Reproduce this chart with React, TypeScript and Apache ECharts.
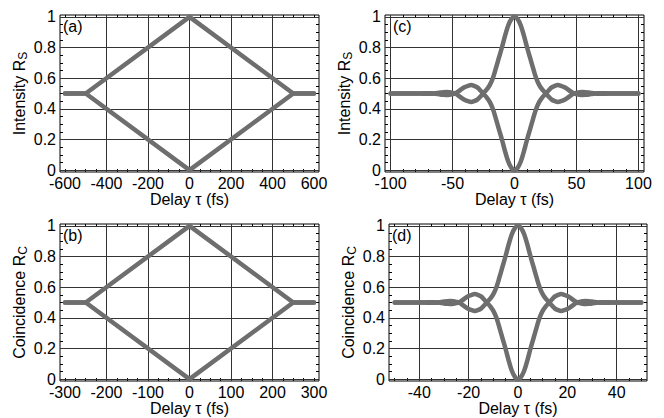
import React, { useEffect, useRef } from "react";
import * as echarts from "echarts";

// ---- data ----
const tauA = [-600, -500, 0, 500, 600];
const upperA = [0.5, 0.5, 1, 0.5, 0.5];
const lowerA = [0.5, 0.5, 0, 0.5, 0.5];

const tauB = [-300, -250, 0, 250, 300];
const upperB = [0.5, 0.5, 1, 0.5, 0.5];
const lowerB = [0.5, 0.5, 0, 0.5, 0.5];

const tauC = [-100, -90, -80, -75, -72.5, -70, -67.5, -65, -62.5, -60, -57.5, -55, -52.5, -50, -47.5, -45, -42.5, -40, -37.5, -35, -32.5, -30, -27.5, -25, -22.5, -20, -17.5, -15, -12.5, -10, -7.5, -5, -2.5, 0, 2.5, 5, 7.5, 10, 12.5, 15, 17.5, 20, 22.5, 25, 27.5, 30, 32.5, 35, 37.5, 40, 42.5, 45, 47.5, 50, 52.5, 55, 57.5, 60, 62.5, 65, 67.5, 70, 72.5, 75, 80, 90, 100];
const upperC = [0.5, 0.5, 0.5, 0.5, 0.498, 0.498, 0.498, 0.5, 0.503, 0.506, 0.508, 0.509, 0.508, 0.504, 0.498, 0.485, 0.47, 0.458, 0.45, 0.445, 0.45, 0.46, 0.48, 0.503, 0.525, 0.555, 0.6, 0.665, 0.735, 0.805, 0.88, 0.945, 0.985, 1, 0.985, 0.945, 0.88, 0.805, 0.735, 0.665, 0.6, 0.555, 0.525, 0.503, 0.48, 0.46, 0.45, 0.445, 0.45, 0.458, 0.47, 0.485, 0.498, 0.504, 0.508, 0.509, 0.508, 0.506, 0.503, 0.5, 0.498, 0.498, 0.498, 0.5, 0.5, 0.5, 0.5];
const lowerC = [0.5, 0.5, 0.5, 0.5, 0.502, 0.502, 0.502, 0.5, 0.497, 0.494, 0.492, 0.491, 0.492, 0.496, 0.502, 0.515, 0.53, 0.542, 0.55, 0.555, 0.55, 0.54, 0.52, 0.497, 0.475, 0.445, 0.4, 0.335, 0.265, 0.195, 0.12, 0.055, 0.015, 0, 0.015, 0.055, 0.12, 0.195, 0.265, 0.335, 0.4, 0.445, 0.475, 0.497, 0.52, 0.54, 0.55, 0.555, 0.55, 0.542, 0.53, 0.515, 0.502, 0.496, 0.492, 0.491, 0.492, 0.494, 0.497, 0.5, 0.502, 0.502, 0.502, 0.5, 0.5, 0.5, 0.5];

const tauD = [-50, -45, -40, -37.5, -36.25, -35, -33.75, -32.5, -31.25, -30, -28.75, -27.5, -26.25, -25, -23.75, -22.5, -21.25, -20, -18.75, -17.5, -16.25, -15, -13.75, -12.5, -11.25, -10, -8.75, -7.5, -6.25, -5, -3.75, -2.5, -1.25, 0, 1.25, 2.5, 3.75, 5, 6.25, 7.5, 8.75, 10, 11.25, 12.5, 13.75, 15, 16.25, 17.5, 18.75, 20, 21.25, 22.5, 23.75, 25, 26.25, 27.5, 28.75, 30, 31.25, 32.5, 33.75, 35, 36.25, 37.5, 40, 45, 50];
const upperD = [0.5, 0.5, 0.5, 0.5, 0.498, 0.498, 0.498, 0.5, 0.503, 0.506, 0.508, 0.509, 0.508, 0.504, 0.498, 0.485, 0.47, 0.458, 0.45, 0.445, 0.45, 0.46, 0.48, 0.503, 0.525, 0.555, 0.6, 0.665, 0.735, 0.805, 0.88, 0.945, 0.985, 1, 0.985, 0.945, 0.88, 0.805, 0.735, 0.665, 0.6, 0.555, 0.525, 0.503, 0.48, 0.46, 0.45, 0.445, 0.45, 0.458, 0.47, 0.485, 0.498, 0.504, 0.508, 0.509, 0.508, 0.506, 0.503, 0.5, 0.498, 0.498, 0.498, 0.5, 0.5, 0.5, 0.5];
const lowerD = [0.5, 0.5, 0.5, 0.5, 0.502, 0.502, 0.502, 0.5, 0.497, 0.494, 0.492, 0.491, 0.492, 0.496, 0.502, 0.515, 0.53, 0.542, 0.55, 0.555, 0.55, 0.54, 0.52, 0.497, 0.475, 0.445, 0.4, 0.335, 0.265, 0.195, 0.12, 0.055, 0.015, 0, 0.015, 0.055, 0.12, 0.195, 0.265, 0.335, 0.4, 0.445, 0.475, 0.497, 0.52, 0.54, 0.55, 0.555, 0.55, 0.542, 0.53, 0.515, 0.502, 0.496, 0.492, 0.491, 0.492, 0.494, 0.497, 0.5, 0.502, 0.502, 0.502, 0.5, 0.5, 0.5, 0.5];

// ---- ticks / grid lines ----
const yTicks = [0, 0.2, 0.4, 0.6, 0.8, 1];
const xTicksA = [-600, -400, -200, 0, 200, 400, 600];
const xGridA = [-400, -200, 0, 200, 400];
const xTicksB = [-300, -200, -100, 0, 100, 200, 300];
const xGridB = [-200, -100, 0, 100, 200];
const xTicksC = [-100, -50, 0, 50, 100];
const xGridC = [-100, -50, 0, 50, 100];
const xTicksD = [-40, -20, 0, 20, 40];
const xGridD = [-40, -20, 0, 20, 40];

const FONT = "Liberation Sans";
const CURVE = "#6e6e6e";

function steps(a: number, b: number, s: number): number[] {
  const out: number[] = [];
  const n = Math.round((b - a) / s);
  for (let i = 0; i <= n; i++) out.push(Math.round((a + i * s) * 1000) / 1000);
  return out;
}
const yMinor = steps(0, 1, 0.05);

const panels = [
  { label: "(a)", lx: 63, ly: 18, grid: { left: 60, top: 15, width: 259, height: 157 }, xMin: -624, xMax: 624, xTicks: xTicksA, xGrid: xGridA, minor: steps(-600, 600, 50), tau: tauA, upper: upperA, lower: lowerA, yName: "Intensity R{s|S}", smooth: false },
  { label: "(c)", lx: 393, ly: 18, grid: { left: 385, top: 15, width: 259, height: 157 }, xMin: -104.5, xMax: 104.5, xTicks: xTicksC, xGrid: xGridC, minor: steps(-100, 100, 10), tau: tauC, upper: upperC, lower: lowerC, yName: "Intensity R{s|S}", smooth: true },
  { label: "(b)", lx: 63, ly: 227, grid: { left: 60, top: 224, width: 259, height: 157 }, xMin: -312, xMax: 312, xTicks: xTicksB, xGrid: xGridB, minor: steps(-300, 300, 25), tau: tauB, upper: upperB, lower: lowerB, yName: "Coincidence R{s|C}", smooth: false },
  { label: "(d)", lx: 392, ly: 227, grid: { left: 389, top: 224, width: 258, height: 157 }, xMin: -52.3, xMax: 52.3, xTicks: xTicksD, xGrid: xGridD, minor: steps(-50, 50, 5), tau: tauD, upper: upperD, lower: lowerD, yName: "Coincidence R{s|C}", smooth: true },
];

function buildOption() {
  const grid: any[] = [];
  const xAxis: any[] = [];
  const yAxis: any[] = [];
  const series: any[] = [];
  const title: any[] = [];
  const tickStyle = { color: "#000", width: 1 };
  const noLine = { show: false, onZero: false };

  panels.forEach((p, i) => {
    grid.push({ ...p.grid, show: true, borderColor: "#000", borderWidth: 1, backgroundColor: "transparent", containLabel: false, outerBoundsMode: "none" });
    xAxis.push({
      type: "value", gridIndex: i, position: "bottom", min: p.xMin, max: p.xMax,
      axisLine: noLine,
      axisTick: { show: true, inside: true, length: 3, customValues: p.minor, lineStyle: tickStyle },
      axisLabel: { show: true, customValues: p.xTicks, formatter: (v: number) => String(v), fontSize: 16, lineHeight: 12, color: "#000", fontFamily: FONT, margin: 5 },
      splitLine: { show: false },
      name: "Delay τ (fs)", nameLocation: "middle", nameGap: 19,
      nameTextStyle: { fontSize: 16, lineHeight: 16, color: "#000", fontFamily: FONT },
    });
    xAxis.push({
      type: "value", gridIndex: i, position: "top", min: p.xMin, max: p.xMax,
      axisLine: noLine,
      axisTick: { show: true, inside: true, length: 3, customValues: p.minor, lineStyle: tickStyle },
      axisLabel: { show: false }, splitLine: { show: false },
    });
    yAxis.push({
      type: "value", gridIndex: i, position: "left", min: -0.012, max: 1.012,
      axisLine: noLine,
      axisTick: { show: true, inside: true, length: 3, customValues: yMinor, lineStyle: tickStyle },
      axisLabel: { show: true, customValues: yTicks, formatter: (v: number) => String(v), fontSize: 16, lineHeight: 12, color: "#000", fontFamily: FONT, margin: 4 },
      splitLine: { show: false },
      name: p.yName, nameLocation: "middle", nameGap: 31,
      nameTextStyle: {
        fontSize: 16, color: "#000", fontFamily: FONT,
        rich: { s: { fontSize: 12, color: "#000", fontFamily: FONT, verticalAlign: "bottom", padding: [7, 0, 0, 0] } },
      },
    });
    yAxis.push({
      type: "value", gridIndex: i, position: "right", min: -0.012, max: 1.012,
      axisLine: noLine,
      axisTick: { show: true, inside: true, length: 3, customValues: yMinor, lineStyle: tickStyle },
      axisLabel: { show: false }, splitLine: { show: false },
    });
    series.push({
      type: "line", xAxisIndex: 2 * i, yAxisIndex: 2 * i, data: [], z: 1, silent: true,
      markLine: {
        z: 1, silent: true, symbol: "none", animation: false,
        label: { show: false },
        lineStyle: { color: "#333", width: 1, type: "solid" },
        emphasis: { disabled: true },
        data: [...p.xGrid.map((v) => ({ xAxis: v })), ...yTicks.map((v) => ({ yAxis: v }))],
      },
    });
    const mk = (vals: number[]) => ({
      type: "line", xAxisIndex: 2 * i, yAxisIndex: 2 * i, z: 3,
      data: p.tau.map((t, k) => [t, vals[k]]),
      smooth: p.smooth ? 0.35 : false, showSymbol: false, symbol: "none", silent: true,
      lineStyle: { color: CURVE, width: 4.5, cap: "round", join: "round" },
    });
    series.push(mk(p.upper));
    series.push(mk(p.lower));
    title.push({ text: p.label, left: p.lx, top: p.ly, padding: 0, textStyle: { fontSize: 16, fontWeight: "normal", color: "#000", fontFamily: FONT } });
  });

  return { animation: false, backgroundColor: "#fff", title, grid, xAxis, yAxis, series };
}

export default function App() {
  const ref = useRef<HTMLDivElement>(null);
  useEffect(() => {
    if (!ref.current) return;
    const chart = echarts.init(ref.current, undefined, { renderer: "svg" });
    chart.setOption(buildOption() as any);
    return () => chart.dispose();
  }, []);
  return (
    <div
      ref={ref}
      style={{ position: "absolute", left: 0, top: 0, width: 664, height: 418, background: "#fff" }}
    />
  );
}
